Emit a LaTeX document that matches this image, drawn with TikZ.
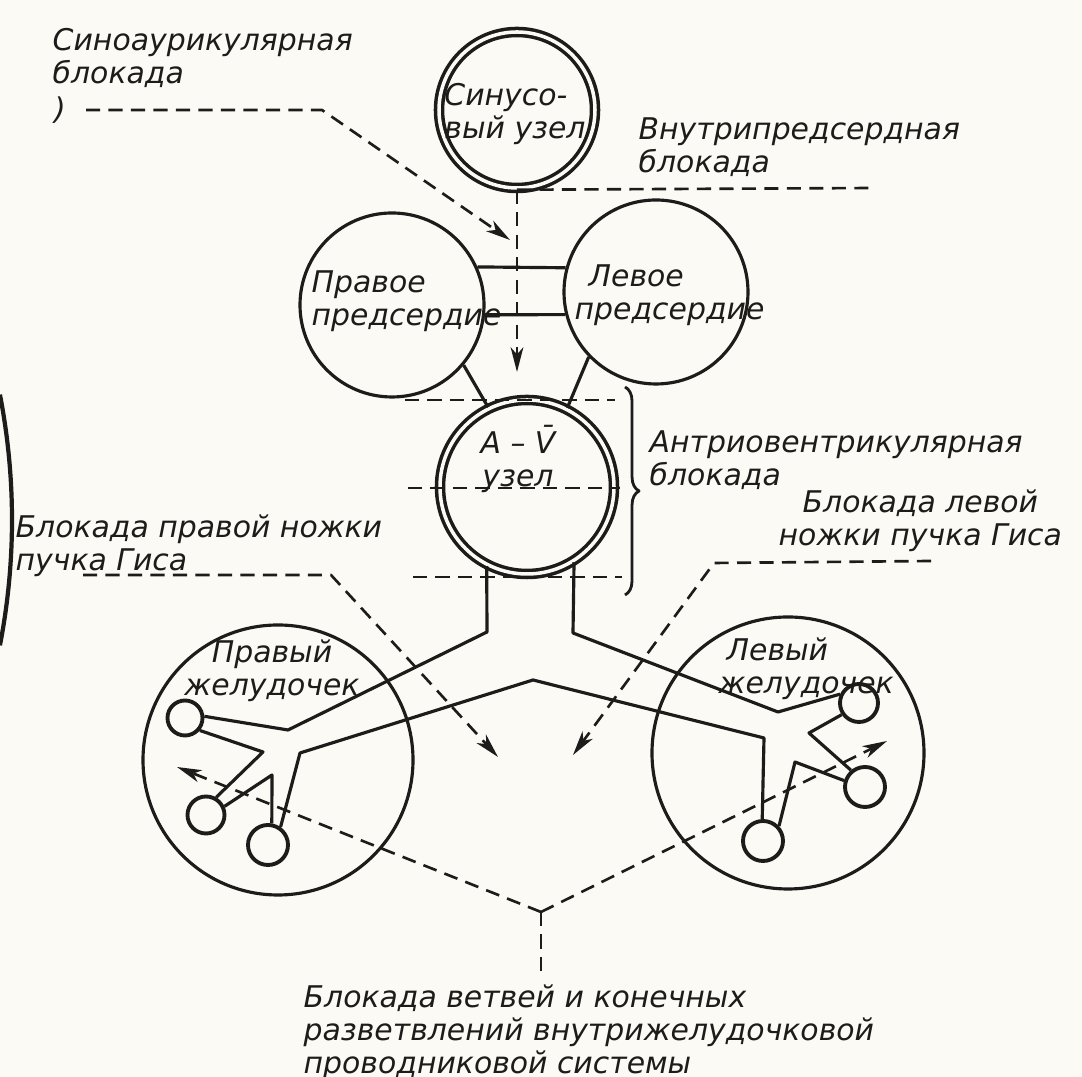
\documentclass[tikz,border=0pt]{standalone}
\usepackage{fontspec}
\setmainfont{DejaVu Sans}
\usetikzlibrary{arrows.meta,decorations.pathreplacing}
\definecolor{paper}{RGB}{251,250,245}
\definecolor{ink}{RGB}{30,28,26}

\begin{document}
\begin{tikzpicture}[
    ink, line join=round,
    lbl/.style={font=\itshape\fontsize{8.5}{9.4}\selectfont, inner sep=0pt, align=left},
    organ/.style={circle, draw, line width=0.9pt, inner sep=0pt},
    ring/.style={circle, draw, line width=1pt, double=paper, double distance=1pt, inner sep=0pt},
    twig/.style={circle, draw, line width=1.1pt, inner sep=0pt},
    fibre/.style={line width=0.9pt},
    blk/.style={line width=0.75pt, dash pattern=on 4pt off 2.4pt},
    blkarrow/.style={blk, -{Stealth[length=7pt,width=3.6pt,inset=2pt]}}
  ]
    \fill[paper] (0,0) rectangle (10.82,10.77);
    \useasboundingbox (0,0) rectangle (10.82,10.77);

    % nodes of the conduction system
    \node[ring, minimum size=1.56cm] (SN) at (5.17,9.67) {};
    \node[organ, minimum size=1.84cm] (RA) at (3.92,7.72) {};
    \node[organ, minimum size=1.84cm] (LA) at (6.56,7.85) {};
    \node[ring, minimum size=1.74cm] (AV) at (5.27,5.90) {};
    \node[organ, minimum size=2.70cm] (RV) at (2.78,3.17) {};
    \node[organ, minimum size=2.72cm] (LV) at (7.88,3.24) {};

    \node[twig, minimum size=0.35cm] (c1) at (1.85,3.59) {};
    \node[twig, minimum size=0.37cm] (c2) at (2.06,2.62) {};
    \node[twig, minimum size=0.40cm] (c3) at (2.68,2.32) {};
    \node[twig, minimum size=0.38cm] (cA) at (8.59,3.74) {};
    \node[twig, minimum size=0.40cm] (cB) at (8.65,2.90) {};
    \node[twig, minimum size=0.40cm] (cC) at (7.63,2.36) {};

    \node[lbl] (snText) at (5.15,9.63) {Синусо-\\вый узел};
    \node[lbl, anchor=north west] (raText) at (3.11,8.07) {Правое\\предсердие};
    \node[lbl, anchor=north west] (laText) at (5.74,8.13) {\hspace{0.14cm}Левое\\предсердие};
    \node[lbl, align=center] (avText) at (5.18,6.18) {A – V̄\\узел};
    \node[lbl, align=center] (rvText) at (2.72,4.06) {Правый\\желудочек};
    \node[lbl, anchor=north west] (lvText) at (7.18,4.40) {\hspace{0.08cm}Левый\\желудочек};

    % labels of the blocks
    \node[lbl, anchor=north west] (saText) at (0.52,10.49) {Синоаурикулярная\\блокада};
    \node[lbl] (paren) at (0.60,9.67) {)};
    \node[lbl, anchor=north west] (iaText) at (6.38,9.60) {Внутрипредсердная\\блокада};
    \node[lbl, anchor=north west] (avbText) at (6.49,6.47) {Антриовентрикулярная\\блокада};
    \node[lbl, anchor=north west] (lbbText) at (7.78,5.88) {\hspace{0.24cm}Блокада левой\\ножки пучка Гиса};
    \node[lbl, anchor=north west] (rbbText) at (0.15,5.63) {Блокада правой ножки\\пучка Гиса};
    \node[lbl, anchor=north west] (brText) at (3.03,0.93) {Блокада ветвей и конечных\\разветвлений внутрижелудочковой\\проводниковой системы};

    % fibres
    \draw[fibre] (RA.24) -- (LA.165);
    \draw[fibre] (RA.-6) -- (LA.194);
    \draw[fibre] (RA.-40) -- (AV.116);
    \draw[fibre] (LA.224) -- (AV.63);

    \coordinate (his) at (5.33,3.97);
    \draw[fibre] (AV.-117) -- (4.87,4.45) -- (2.88,3.47) -- (c1.5);
    \draw[fibre] (c1.-40) -- (2.63,3.25) -- (c2.60);
    \draw[fibre] (c2.25) -- (2.72,3.02) -- (c3.80);
    \draw[fibre] (c3.55) -- (3.00,3.24) -- (his) -- (7.64,3.39) -- (cC.92);
    \draw[fibre] (AV.-58) -- (5.73,4.44) -- (7.78,3.65) -- (cA.155);
    \draw[fibre] (cA.214) -- (8.09,3.44) -- (cB.130);
    \draw[fibre] (cB.163) -- (7.95,3.15) -- (cC.43);

    % blocks
    \coordinate (saA) at (0.86,9.67);
    \coordinate (saB) at (3.22,9.67);
    \coordinate (saC) at (5.10,8.37);
    \draw[blkarrow] (saA) -- (saB) -- (saC);

    \coordinate (snTip) at (5.17,7.05);
    \coordinate (iaEnd) at (8.76,8.89);
    \draw[blkarrow] (SN.south) -- (snTip);
    \draw[blk] (SN.south) -- (iaEnd);

    \draw[blk] (4.05,6.77) -- (6.15,6.77);
    \draw[blk] (4.08,5.89) -- (6.20,5.89);
    \draw[blk] (4.13,5.00) -- (6.22,5.00);
    \draw[line width=0.8pt, decorate, decoration={brace, amplitude=4pt}] (6.25,6.90) -- (6.25,4.82);

    \coordinate (rbbA) at (0.83,5.02);
    \coordinate (rbbB) at (3.31,5.02);
    \coordinate (rbbTip) at (4.98,3.20);
    \draw[blkarrow] (rbbA) -- (rbbB) -- (rbbTip);

    \coordinate (lbbA) at (9.31,5.16);
    \coordinate (lbbB) at (7.14,5.14);
    \coordinate (lbbTip) at (5.73,3.22);
    \draw[blkarrow] (lbbA) -- (lbbB) -- (lbbTip);

    \coordinate (brV) at (5.41,1.65);
    \coordinate (brL) at (1.77,3.10);
    \coordinate (brR) at (8.87,3.36);
    \coordinate (brD) at (5.41,0.99);
    \draw[blkarrow] (brV) -- (brL);
    \draw[blkarrow] (brV) -- (brR);
    \draw[blk] (brV) -- (brD);

    % edge of the neighbouring figure
    \draw[line width=1.2pt] (-6.45,5.57) ++(-11:6.57) arc (-11:11:6.57);
\end{tikzpicture}
\end{document}
